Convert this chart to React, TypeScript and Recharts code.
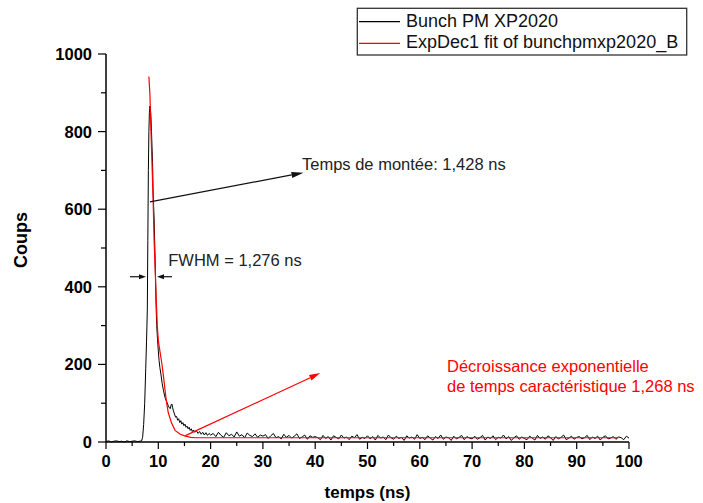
import React from 'react';
import { LineChart, Line, XAxis, YAxis, Legend, ReferenceLine, ReferenceDot, Label } from 'recharts';

const FONT = "'Liberation Sans', Arial, Helvetica, sans-serif";

// ---------- data ----------
const pulseHeadTimes = [
  0, 0.5, 1, 1.5, 2, 2.5, 3, 3.5, 4, 4.5, 5, 5.5, 6, 6.5,
  6.8, 7.0, 7.2, 7.4, 7.6, 7.75, 7.9, 8.0, 8.1, 8.2, 8.3, 8.4, 8.5, 8.6, 8.7, 8.8, 8.9,
  9.0, 9.1, 9.2, 9.3, 9.4, 9.5, 9.6, 9.7, 9.85, 10.0, 10.15, 10.3, 10.5, 10.75,
  11.0, 11.3, 11.6, 11.9, 12.1, 12.3, 12.45, 12.6, 12.75,
  12.9, 13.1, 13.3, 13.5, 13.7, 13.9, 14.1, 14.3, 14.5, 14.7, 14.9, 15.1, 15.3, 15.5, 15.7, 15.9,
  16.1, 16.3, 16.5, 16.7, 17.0, 17.3, 17.6, 17.9, 18.2, 18.5, 18.8, 19.1, 19.4, 19.7, 20.0,
];
const pulseHeadCounts = [
  1, 3, 0, 2, 3, 1, 2, 0, 3, 1, 2, 3, 1, 2,
  3, 12, 45, 100, 190, 260, 340, 520, 700, 800, 850, 866, 860, 835, 800, 760, 720,
  650, 610, 575, 520, 470, 400, 340, 300, 265, 235, 210, 192, 175, 150,
  132, 114, 104, 94, 88, 86, 96, 98, 88,
  80, 72, 64, 66, 56, 60, 50, 55, 46, 50, 42, 46, 38, 41, 34, 38,
  30, 34, 27, 31, 25, 29, 22, 27, 20, 25, 18, 24, 17, 22, 18,
];
// tail of the pulse, one reading every 0.5 ns from 20.5 ns to 100 ns
const pulseTailStart = 20.5;
const pulseTailStep = 0.5;
const pulseTailCounts = [
  22, 14, 25, 17, 12, 24, 16, 20, 13, 26, 15, 19, 11, 23, 17, 14, 21, 12, 18, 15,
  19, 9, 16, 22, 11, 14, 8, 20, 12, 17, 10, 15, 21, 9, 13, 18, 7, 16, 12, 14,
  11, 6, 17, 9, 14, 5, 16, 12, 8, 18, 10, 13, 6, 15, 11, 19, 7, 12, 9, 16,
  8, 14, 5, 17, 10, 13, 6, 18, 11, 7, 15, 9, 12, 4, 16, 10, 13, 7, 19, 9,
  12, 6, 16, 10, 5, 14, 9, 18, 7, 13, 11, 4, 15, 8, 12, 17, 6, 14, 10, 8,
  15, 7, 11, 17, 5, 13, 9, 16, 6, 12, 10, 18, 8, 14, 4, 11, 16, 7, 13, 9,
  6, 15, 10, 5, 17, 9, 13, 7, 16, 11, 4, 14, 8, 12, 18, 6, 10, 15, 7, 12,
  14, 8, 11, 17, 6, 13, 9, 15, 5, 12, 16, 8, 10, 14, 7, 13, 11, 6, 15, 10,
];

const fitTimes = [8.2, 8.4, 8.6, 8.8, 9.0, 9.2, 9.4, 9.6, 9.8, 10.0, 10.3, 10.65, 11.0, 11.3, 11.6, 11.9, 12.5, 13.2, 14.2, 15.2, 16.2, 17.2, 30, 50, 70, 98];
const fitCounts = [942, 895, 800, 715, 630, 520, 445, 370, 300, 262, 235, 205, 168, 132, 100, 76, 50, 30, 20, 15, 12, 11, 11, 11, 11, 11];

const seriesNames = ['Bunch PM XP2020', 'ExpDec1 fit of bunchpmxp2020_B'];

const xTicks = [0, 5, 10, 15, 20, 25, 30, 35, 40, 45, 50, 55, 60, 65, 70, 75, 80, 85, 90, 95, 100];
const yTicks = [0, 100, 200, 300, 400, 500, 600, 700, 800, 900, 1000];
const xLabelEvery = 10;
const yLabelEvery = 200;

// annotations (data coordinates)
const riseArrow = [{ x: 8.41, y: 619 }, { x: 37.76, y: 694 }];
const riseText = { x: 37.48, y: 702, text: 'Temps de montée: 1,428 ns' };
const fwhmLeftArrow = [{ x: 4.59, y: 426 }, { x: 7.65, y: 426 }];
const fwhmRightArrow = [{ x: 12.62, y: 426 }, { x: 9.75, y: 426 }];
const fwhmText = { x: 11.91, y: 453.6, text: 'FWHM = 1,276 ns' };
const decayArrow = [{ x: 15.18, y: 16.5 }, { x: 40.96, y: 177.6 }];
const decayText1 = { x: 65.2, y: 179.4, text: 'Décroissance exponentielle' };
const decayText2 = { x: 65.2, y: 127.6, text: 'de temps caractéristique 1,268 ns' };

// ---------- tables ----------
const pulseData = [
  ...pulseHeadTimes.map((t, i) => ({ t, c: pulseHeadCounts[i] })),
  ...pulseTailCounts.map((c, i) => ({ t: pulseTailStart + i * pulseTailStep, c })),
];
const fitData = fitTimes.map((t, i) => ({ t, c: fitCounts[i] }));

// ---------- render helpers ----------
const arrowShape = (color: string, headLen: number, headHalf: number, width: number) => (p: any) => {
  const x1 = Number(p.x1), y1 = Number(p.y1), x2 = Number(p.x2), y2 = Number(p.y2);
  const ang = Math.atan2(y2 - y1, x2 - x1);
  const bx = x2 - headLen * Math.cos(ang);
  const by = y2 - headLen * Math.sin(ang);
  const nx = -Math.sin(ang) * headHalf;
  const ny = Math.cos(ang) * headHalf;
  return (
    <g>
      <line x1={x1} y1={y1} x2={bx} y2={by} stroke={color} strokeWidth={width} />
      <polygon points={`${x2},${y2} ${bx + nx},${by + ny} ${bx - nx},${by - ny}`} fill={color} />
    </g>
  );
};

const textShape = (text: string, color: string) => (p: any) => (
  <text x={p.cx} y={p.cy} fill={color} fontSize={16.5} fontFamily={FONT}>
    {text}
  </text>
);

const XTick = (props: any) => {
  const { x, y, payload } = props;
  const v = payload.value;
  const major = v % xLabelEvery === 0;
  return (
    <g>
      <line x1={x} y1={y} x2={x} y2={y + (major ? 7 : 4)} stroke="#000" strokeWidth={1.2} />
      {major && (
        <text x={x} y={y + 25} textAnchor="middle" fontSize={16.5} fontWeight="bold" fontFamily={FONT} fill="#000">
          {v}
        </text>
      )}
    </g>
  );
};

const YTick = (props: any) => {
  const { x, y, payload } = props;
  const v = payload.value;
  const major = v % yLabelEvery === 0;
  return (
    <g>
      <line x1={x} y1={y} x2={x - (major ? 8 : 5)} y2={y} stroke="#000" strokeWidth={1.2} />
      {major && (
        <text x={x - 14} y={y + 6} textAnchor="end" fontSize={16.5} fontWeight="bold" fontFamily={FONT} fill="#000">
          {v}
        </text>
      )}
    </g>
  );
};

const LegendBox = (props: any) => {
  const payload = props.payload || [];
  const items = seriesNames.map((name, i) => ({
    name: (payload[i] && payload[i].value) || name,
    color: (payload[i] && payload[i].color) || (i === 0 ? '#000' : '#ff0000'),
  }));
  return (
    <svg width={333} height={50} style={{ display: 'block' }}>
      <rect x={1.3} y={1.3} width={329.4} height={46.7} fill="#fff" stroke="#333" strokeWidth={1.3} />
      {items.map((it, i) => (
        <g key={i}>
          <line x1={3} y1={14.7 + i * 21.6} x2={44} y2={14.7 + i * 21.6} stroke={it.color} strokeWidth={1.2} />
          <text x={50} y={19.7 + i * 21.6} fontSize={18} fontFamily={FONT} fill="#111">
            {it.name}
          </text>
        </g>
      ))}
    </svg>
  );
};

export default function App() {
  return (
    <div style={{ position: 'absolute', left: 0, top: 0, width: 703, height: 503, background: '#fff' }}>
      <LineChart width={703} height={503} margin={{ top: 54, right: 74, bottom: 0, left: 0 }}>
        <XAxis
          dataKey="t"
          type="number"
          domain={[0, 100]}
          ticks={xTicks}
          interval={0}
          height={61}
          tickSize={0}
          tickMargin={0}
          tickLine={false}
          tick={<XTick />}
          axisLine={{ stroke: '#000', strokeWidth: 1.5 }}
          allowDecimals
        >
          <Label
            content={(p: any) => {
              const vb = p.viewBox || { x: 106, y: 442, width: 523 };
              return (
                <text x={vb.x + vb.width / 2} y={vb.y + 56} textAnchor="middle" fontSize={17} fontWeight="bold" fontFamily={FONT} fill="#000">
                  temps (ns)
                </text>
              );
            }}
          />
        </XAxis>
        <YAxis
          type="number"
          domain={[0, 1000]}
          ticks={yTicks}
          interval={0}
          width={106}
          tickSize={0}
          tickMargin={0}
          tickLine={false}
          tick={<YTick />}
          axisLine={{ stroke: '#000', strokeWidth: 1.5 }}
        >
          <Label
            content={() => (
              <text x={27} y={240} transform="rotate(-90, 27, 240)" textAnchor="middle" fontSize={18} fontWeight="bold" fontFamily={FONT} fill="#000">
                Coups
              </text>
            )}
          />
        </YAxis>
        <Legend
          layout="vertical"
          align="center"
          verticalAlign="middle"
          wrapperStyle={{ left: 356, top: 7, width: 333, height: 50 }}
          content={<LegendBox />}
        />
        <Line
          data={pulseData}
          dataKey="c"
          name={seriesNames[0]}
          stroke="#000"
          strokeWidth={1}
          dot={false}
          activeDot={false}
          isAnimationActive={false}
          type="linear"
        />
        <Line
          data={fitData}
          dataKey="c"
          name={seriesNames[1]}
          stroke="#ff0000"
          strokeWidth={1.2}
          dot={false}
          activeDot={false}
          isAnimationActive={false}
          type="linear"
        />
        <ReferenceLine segment={riseArrow} shape={arrowShape('#111', 12, 3, 1.2)} />
        <ReferenceLine segment={fwhmLeftArrow} shape={arrowShape('#111', 7, 2.5, 1.2)} />
        <ReferenceLine segment={fwhmRightArrow} shape={arrowShape('#111', 7, 2.5, 1.2)} />
        <ReferenceLine segment={decayArrow} shape={arrowShape('#ff0000', 11, 3, 1.2)} />
        <ReferenceDot x={riseText.x} y={riseText.y} shape={textShape(riseText.text, '#222')} />
        <ReferenceDot x={fwhmText.x} y={fwhmText.y} shape={textShape(fwhmText.text, '#222')} />
        <ReferenceDot x={decayText1.x} y={decayText1.y} shape={textShape(decayText1.text, '#ff0000')} />
        <ReferenceDot x={decayText2.x} y={decayText2.y} shape={textShape(decayText2.text, '#ff0000')} />
      </LineChart>
    </div>
  );
}
